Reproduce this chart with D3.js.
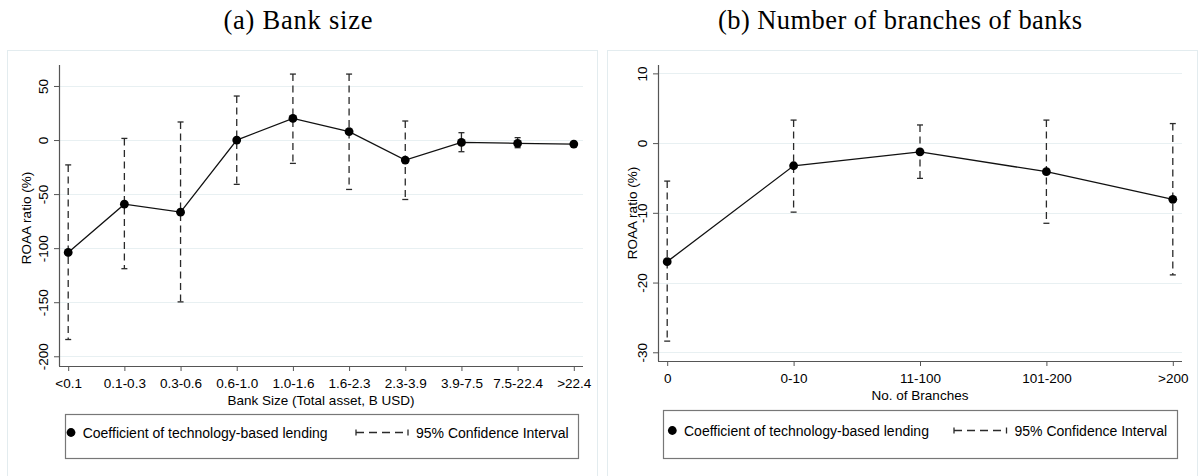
<!DOCTYPE html>
<html>
<head>
<meta charset="utf-8">
<script src="https://cdn.jsdelivr.net/npm/d3@7/dist/d3.min.js"></script>
<style>
  html, body { margin: 0; padding: 0; background: #ffffff; }
  svg { display: block; }
  text { font-family: "Liberation Sans", Arial, sans-serif; fill: #000; }
</style>
</head>
<body>
<svg id="chart" width="1199" height="476"></svg>
<script>
// ---------- Data ----------
const sizeTitle = "(a) Bank size";
const sizeCategories = ["<0.1", "0.1-0.3", "0.3-0.6", "0.6-1.0", "1.0-1.6", "1.6-2.3", "2.3-3.9", "3.9-7.5", "7.5-22.4", ">22.4"];
const sizeCoef  = [-104, -59.3, -66.7, 0, 20, 7.7, -18.5, -2.2, -3, -3.7];
const sizeLower = [-184.5, -119, -149.7, -41, -21.6, -45.7, -55, -10.8, -7.1, -5.6];
const sizeUpper = [-23, 1.5, 16.7, 40.7, 61, 61, 17.6, 6.8, 2.2, -1.8];
const sizeTicks = [50, 0, -50, -100, -150, -200];
const sizeDomain = [-209, 69.4];
const sizeXTitle = "Bank Size (Total asset, B USD)";

const branchTitle = "(b) Number of branches of banks";
const branchCategories = ["0", "0-10", "11-100", "101-200", ">200"];
const branchCoef  = [-17.0, -3.25, -1.25, -4.1, -8.07];
const branchLower = [-28.4, -9.9, -5.06, -11.5, -18.9];
const branchUpper = [-5.45, 3.3, 2.6, 3.3, 2.8];
const branchTicks = [10, 0, -10, -20, -30];
const branchDomain = [-31.25, 11.2];
const branchXTitle = "No. of Branches";

const yTitle = "ROAA ratio (%)";
const legendCoef = "Coefficient of technology-based lending";
const legendCI = "95% Confidence Interval";

// ---------- Drawing ----------
const svg = d3.select("#chart");

function drawPanel(cfg) {
  const g = svg.append("g");
  // outer frame
  g.append("rect")
    .attr("x", cfg.frame[0] + 0.5).attr("y", 50.5)
    .attr("width", cfg.frame[1] - cfg.frame[0]).attr("height", 440)
    .attr("fill", "#ffffff").attr("stroke", "#e3ecef").attr("stroke-width", 1);

  // title
  g.append("text")
    .attr("x", cfg.titleX).attr("y", 29)
    .attr("text-anchor", "middle")
    .style("font-family", "'Liberation Serif', 'Times New Roman', serif")
    .style("font-size", "26.5px")
    .attr("textLength", cfg.titleLen).attr("lengthAdjust", "spacing")
    .text(cfg.title);

  const x = d3.scalePoint().domain(cfg.categories).range([cfg.left + 9.2, cfg.right - 9.2]);
  const y = d3.scaleLinear().domain(cfg.domain).range([cfg.bottom, cfg.top]);

  // grid
  g.append("g").selectAll("line").data(cfg.ticks).join("line")
    .attr("x1", cfg.left).attr("x2", cfg.right)
    .attr("y1", d => Math.round(y(d)) + 0.5).attr("y2", d => Math.round(y(d)) + 0.5)
    .attr("stroke", "#e8f0f2").attr("stroke-width", 1);

  // y axis
  const yAxis = g.append("g")
    .attr("transform", `translate(${cfg.left},0)`)
    .call(d3.axisLeft(y).tickValues(cfg.ticks).tickSize(5).tickSizeOuter(0).tickFormat(d => String(d)));
  yAxis.select(".domain").remove();
  yAxis.selectAll(".tick line").attr("stroke", "#555").attr("stroke-width", 1);
  yAxis.selectAll(".tick text")
    .attr("x", null).attr("dy", null)
    .attr("transform", "translate(-11,0) rotate(-90)")
    .attr("text-anchor", "middle")
    .style("font-size", "13.5px").style("font-family", "'Liberation Sans', Arial, sans-serif").attr("fill", "#000");
  g.append("line")
    .attr("x1", cfg.left + 0.5).attr("x2", cfg.left + 0.5)
    .attr("y1", cfg.top).attr("y2", cfg.bottom)
    .attr("stroke", "#555").attr("stroke-width", 1.2);

  // x axis
  const xAxis = g.append("g")
    .attr("transform", `translate(0,${cfg.bottom})`)
    .call(d3.axisBottom(x).tickSize(5).tickPadding(7).tickSizeOuter(0));
  xAxis.select(".domain").remove();
  xAxis.selectAll(".tick line").attr("stroke", "#555").attr("stroke-width", 1);
  xAxis.selectAll(".tick text")
    .style("font-size", "13.5px").style("font-family", "'Liberation Sans', Arial, sans-serif").attr("fill", "#000");
  g.append("line")
    .attr("x1", cfg.left).attr("x2", cfg.right)
    .attr("y1", cfg.bottom + 0.5).attr("y2", cfg.bottom + 0.5)
    .attr("stroke", "#555").attr("stroke-width", 1.2);

  // axis titles
  g.append("text")
    .attr("x", (cfg.left + cfg.right) / 2).attr("y", cfg.bottom + 38.5)
    .attr("text-anchor", "middle").style("font-size", "13.5px")
    .text(cfg.xTitle);
  g.append("text")
    .attr("transform", `translate(${cfg.yTitleX},${cfg.yTitleY}) rotate(-90)`)
    .attr("text-anchor", "middle").style("font-size", "13.5px")
    .text(yTitle);

  const rows = cfg.categories.map((c, i) => ({ c, v: cfg.coef[i], lo: cfg.lower[i], hi: cfg.upper[i] }));

  // CI bars
  const ci = g.append("g");
  ci.selectAll("line.bar").data(rows).join("line")
    .attr("class", "bar")
    .attr("x1", d => x(d.c)).attr("x2", d => x(d.c))
    .attr("y1", d => y(d.hi)).attr("y2", d => y(d.lo))
    .attr("stroke", "#2a2a2a").attr("stroke-width", 1.3)
    .attr("stroke-dasharray", "7,4.5");
  ci.selectAll("line.capHi").data(rows).join("line")
    .attr("class", "capHi")
    .attr("x1", d => x(d.c) - 3).attr("x2", d => x(d.c) + 3)
    .attr("y1", d => y(d.hi)).attr("y2", d => y(d.hi))
    .attr("stroke", "#2a2a2a").attr("stroke-width", 1.3);
  ci.selectAll("line.capLo").data(rows).join("line")
    .attr("class", "capLo")
    .attr("x1", d => x(d.c) - 3).attr("x2", d => x(d.c) + 3)
    .attr("y1", d => y(d.lo)).attr("y2", d => y(d.lo))
    .attr("stroke", "#2a2a2a").attr("stroke-width", 1.3);

  // connecting line
  g.append("path").datum(rows)
    .attr("d", d3.line().x(d => x(d.c)).y(d => y(d.v)))
    .attr("fill", "none").attr("stroke", "#111").attr("stroke-width", 1.3);

  // points
  g.append("g").selectAll("circle").data(rows).join("circle")
    .attr("cx", d => x(d.c)).attr("cy", d => y(d.v)).attr("r", 4.4)
    .attr("fill", "#000");

  // legend
  const L = cfg.legend;
  g.append("rect")
    .attr("x", L.x + 0.5).attr("y", L.y + 0.5).attr("width", L.w).attr("height", L.h)
    .attr("fill", "#fff").attr("stroke", "#777").attr("stroke-width", 1.2);
  const ly = L.symY;
  g.append("circle").attr("cx", L.markX).attr("cy", ly).attr("r", 4.4).attr("fill", "#000");
  g.append("text").attr("x", L.markX + 11.7).attr("y", ly + 5.2)
    .style("font-size", "14px").text(legendCoef);
  // CI symbol
  g.append("line").attr("x1", L.ciX0).attr("x2", L.ciX0).attr("y1", ly - 3).attr("y2", ly + 3)
    .attr("stroke", "#2a2a2a").attr("stroke-width", 1.3);
  g.append("line").attr("x1", L.ciX0).attr("x2", L.ciX1).attr("y1", ly).attr("y2", ly)
    .attr("stroke", "#2a2a2a").attr("stroke-width", 1.3).attr("stroke-dasharray", "8,5");
  g.append("line").attr("x1", L.ciX1).attr("x2", L.ciX1).attr("y1", ly - 3).attr("y2", ly + 3)
    .attr("stroke", "#2a2a2a").attr("stroke-width", 1.3);
  g.append("text").attr("x", L.ciX1 + 8).attr("y", ly + 5.2)
    .style("font-size", "14px").text(legendCI);
}

drawPanel({
  frame: [7, 597], title: sizeTitle, titleX: 298, titleLen: 149,
  categories: sizeCategories, coef: sizeCoef, lower: sizeLower, upper: sizeUpper,
  ticks: sizeTicks, domain: sizeDomain, xTitle: sizeXTitle,
  left: 59, right: 583, top: 65, bottom: 366,
  yTitleX: 31, yTitleY: 218,
  legend: { x: 65, y: 414, w: 513, h: 44, symY: 432.5, markX: 71, ciX0: 356, ciX1: 408 }
});

drawPanel({
  frame: [607, 1197], title: branchTitle, titleX: 900, titleLen: 364,
  categories: branchCategories, coef: branchCoef, lower: branchLower, upper: branchUpper,
  ticks: branchTicks, domain: branchDomain, xTitle: branchXTitle,
  left: 658, right: 1182, top: 65, bottom: 361,
  yTitleX: 637, yTitleY: 213,
  legend: { x: 663, y: 410, w: 514, h: 48, symY: 430.5, markX: 672.3, ciX0: 954, ciX1: 1006.5 }
});
</script>
</body>
</html>
